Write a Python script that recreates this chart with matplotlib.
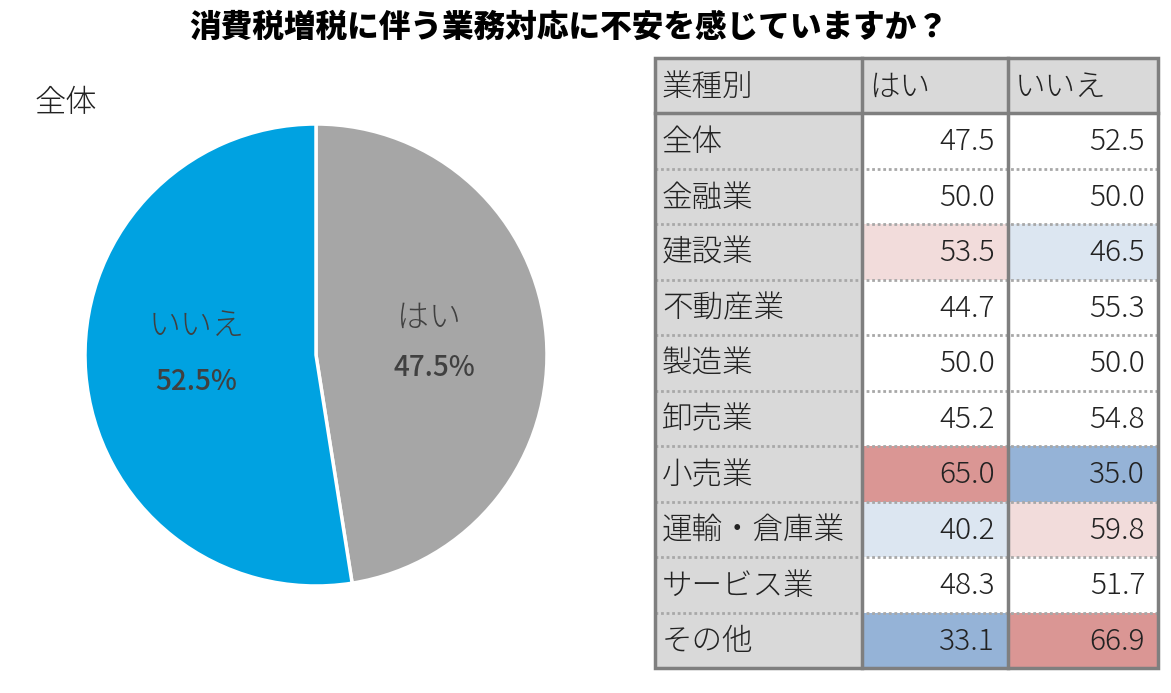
import matplotlib
matplotlib.use("Agg")
import matplotlib.pyplot as plt
from matplotlib.patches import Rectangle

plt.rcParams['font.family'] = ['Noto Sans CJK JP', 'DejaVu Sans']

# ---------------- data ----------------
title = "消費税増税に伴う業務対応に不安を感じていますか？"
pie_title = "全体"
pie_labels = ["はい", "いいえ"]
pie_values = [47.5, 52.5]
pie_colors = ["#a6a6a6", "#00a2e1"]

table_header = ["業種別", "はい", "いいえ"]
industries = ["全体", "金融業", "建設業", "不動産業", "製造業", "卸売業",
              "小売業", "運輸・倉庫業", "サービス業", "その他"]
yes_values = [47.5, 50.0, 53.5, 44.7, 50.0, 45.2, 65.0, 40.2, 48.3, 33.1]
no_values = [52.5, 50.0, 46.5, 55.3, 50.0, 54.8, 35.0, 59.8, 51.7, 66.9]

# ---------------- figure ----------------
W, H = 1171, 693
fig = plt.figure(figsize=(W / 100, H / 100), dpi=100)
fig.patch.set_facecolor("white")

# ---------------- pie ----------------
cx, cy, r = 316, 355, 231
pax = fig.add_axes([(cx - r) / W, (H - cy - r) / H, 2 * r / W, 2 * r / H])
wedges, _ = pax.pie(pie_values, colors=pie_colors, startangle=90,
                    counterclock=False, radius=1.0,
                    wedgeprops=dict(edgecolor="white", linewidth=2.5))
pax.set_xlim(-1, 1)
pax.set_ylim(-1, 1)
pax.set_aspect("equal")
pax.axis("off")

# overlay axes in pixel coordinates (on top of the pie)
bg = fig.add_axes([0, 0, 1, 1])
bg.set_xlim(0, W)
bg.set_ylim(H, 0)
bg.axis("off")

bg.text(569, 27, title, ha="center", va="center", fontsize=22.8,
        fontweight="black", color="black")
bg.text(35, 103, pie_title, ha="left", va="center", fontsize=22.5,
        fontweight="light", color="#222222")

label_pos = {"はい": ((429, 318), (434, 367)), "いいえ": ((197, 326), (196, 381))}
for lab, val in zip(pie_labels, pie_values):
    (lx, ly), (px, py) = label_pos[lab]
    bg.text(lx, ly, lab, ha="center", va="center", fontsize=23,
            fontweight="light", color="#404040", zorder=5)
    bg.text(px, py, f"{val:.1f}%", ha="center", va="center", fontsize=20,
            fontweight="medium", color="#404040", zorder=5)

# ---------------- table ----------------
col_x = [655, 862, 1008, 1158]
top, bottom = 58, 668
nrows = len(industries) + 1
rh = (bottom - top) / nrows
border = "#7f7f7f"
head_bg = "#d9d9d9"

def cell_color(v, ref):
    d = v - ref
    if d >= 10:
        return "#da9694"
    if d >= 5:
        return "#f2dcdb"
    if d <= -10:
        return "#95b3d7"
    if d <= -5:
        return "#dce6f1"
    return "white"

fs_tab = 22
# header
for j, h in enumerate(table_header):
    bg.add_patch(Rectangle((col_x[j], top), col_x[j + 1] - col_x[j], rh,
                           facecolor=head_bg, edgecolor="none", zorder=1))
    bg.text(col_x[j] + 7, top + rh / 2 + 1, h, ha="left", va="center",
            fontsize=fs_tab, fontweight="light", color="#222222", zorder=3)

for i, (name, yv, nv) in enumerate(zip(industries, yes_values, no_values)):
    y0 = top + rh * (i + 1)
    bg.add_patch(Rectangle((col_x[0], y0), col_x[1] - col_x[0], rh,
                           facecolor=head_bg, edgecolor="none", zorder=1))
    bg.add_patch(Rectangle((col_x[1], y0), col_x[2] - col_x[1], rh,
                           facecolor=cell_color(yv, yes_values[0]),
                           edgecolor="none", zorder=1))
    bg.add_patch(Rectangle((col_x[2], y0), col_x[3] - col_x[2], rh,
                           facecolor=cell_color(nv, no_values[0]),
                           edgecolor="none", zorder=1))
    yc = y0 + rh / 2 + 1
    bg.text(col_x[0] + 7, yc, name, ha="left", va="center",
            fontsize=fs_tab, fontweight="light", color="#222222", zorder=3)
    bg.text(col_x[2] - 13, yc, f"{yv:.1f}", ha="right", va="center",
            fontsize=fs_tab - 0.5, fontweight="light", color="#222222", zorder=3)
    bg.text(col_x[3] - 13, yc, f"{nv:.1f}", ha="right", va="center",
            fontsize=fs_tab - 0.5, fontweight="light", color="#222222", zorder=3)
    if i > 0:
        bg.plot([col_x[0], col_x[3]], [y0, y0], color="#a8a8a8", lw=2.0,
                linestyle=(0, (1, 1)), zorder=2, solid_capstyle="butt")

# header bottom line (solid)
bg.plot([col_x[0], col_x[3]], [top + rh, top + rh], color=border, lw=2.5, zorder=4)
# column separators
for x in col_x[1:3]:
    bg.plot([x, x], [top, bottom], color=border, lw=2.5, zorder=4)
# outer frame
bg.add_patch(Rectangle((col_x[0], top), col_x[3] - col_x[0], bottom - top,
                       facecolor="none", edgecolor=border, lw=2.5, zorder=4))

fig.savefig("out.png", dpi=100, facecolor="white")
